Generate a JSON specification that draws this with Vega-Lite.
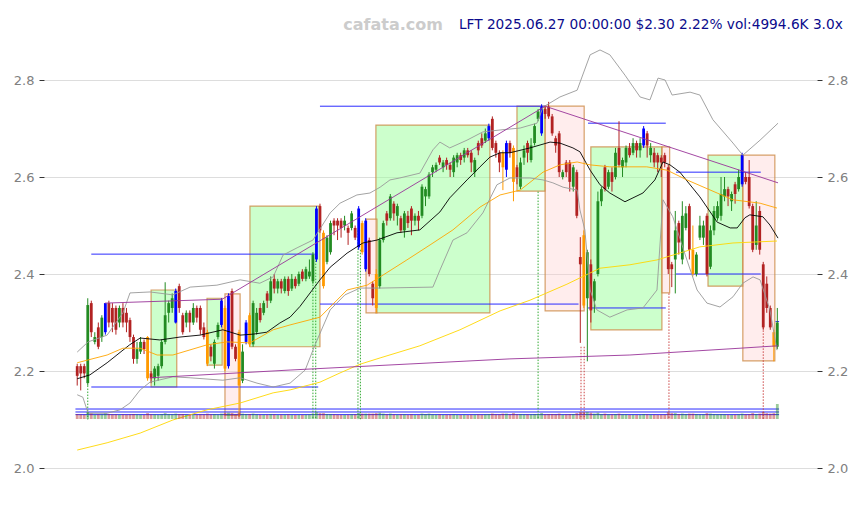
{
"$schema": "https://vega.github.io/schema/vega-lite/v6.json",
"width": 773, "height": 460,
"autosize": {"type": "none"},
"padding": {"left": 44, "top": 8, "right": 41, "bottom": 37},
"background": "white",
"config": {"view": {"stroke": null}, "axis": {"labelFont": "DejaVu Sans", "labelFontSize": 13, "labelColor": "#808080", "tickColor": "#333333", "tickSize": 5, "gridColor": "#dddddd", "domain": false}},
"datasets": {
"candles": [
{"x":0,"o":2.21,"h":2.215,"l":2.17,"c":2.19,"v":1650,"s":"d"},
{"x":1,"o":2.21,"h":2.215,"l":2.16,"c":2.195,"v":1550,"s":"d"},
{"x":2,"o":2.21,"h":2.215,"l":2.185,"c":2.195,"v":1450,"s":"d"},
{"x":3,"o":2.175,"h":2.35,"l":2.17,"c":2.336,"v":2300,"s":"u"},
{"x":4,"o":2.34,"h":2.345,"l":2.27,"c":2.28,"v":1800,"s":"d"},
{"x":5,"o":2.26,"h":2.28,"l":2.255,"c":2.27,"v":1450,"s":"u"},
{"x":6,"o":2.29,"h":2.3,"l":2.245,"c":2.25,"v":1550,"s":"d"},
{"x":7,"o":2.27,"h":2.315,"l":2.26,"c":2.31,"v":1550,"s":"u"},
{"x":8,"o":2.28,"h":2.34,"l":2.275,"c":2.34,"v":1800,"s":"b"},
{"x":9,"o":2.34,"h":2.345,"l":2.29,"c":2.3,"v":1650,"s":"d"},
{"x":10,"o":2.33,"h":2.34,"l":2.28,"c":2.3,"v":1550,"s":"d"},
{"x":11,"o":2.33,"h":2.335,"l":2.275,"c":2.285,"v":1550,"s":"d"},
{"x":12,"o":2.3,"h":2.335,"l":2.29,"c":2.33,"v":1450,"s":"u"},
{"x":13,"o":2.33,"h":2.34,"l":2.29,"c":2.3,"v":1550,"s":"d"},
{"x":14,"o":2.32,"h":2.33,"l":2.28,"c":2.3,"v":1450,"s":"d"},
{"x":15,"o":2.305,"h":2.31,"l":2.26,"c":2.27,"v":1550,"s":"d"},
{"x":16,"o":2.27,"h":2.275,"l":2.215,"c":2.225,"v":1650,"s":"d"},
{"x":17,"o":2.225,"h":2.26,"l":2.215,"c":2.245,"v":1550,"s":"u"},
{"x":18,"o":2.24,"h":2.27,"l":2.235,"c":2.26,"v":1450,"s":"u"},
{"x":19,"o":2.26,"h":2.265,"l":2.235,"c":2.245,"v":1400,"s":"d"},
{"x":20,"o":2.27,"h":2.272,"l":2.18,"c":2.185,"v":1950,"s":"n"},
{"x":21,"o":2.195,"h":2.2,"l":2.175,"c":2.185,"v":1550,"s":"d"},
{"x":22,"o":2.185,"h":2.21,"l":2.17,"c":2.205,"v":1550,"s":"u"},
{"x":23,"o":2.19,"h":2.215,"l":2.18,"c":2.21,"v":1450,"s":"u"},
{"x":24,"o":2.21,"h":2.265,"l":2.205,"c":2.26,"v":1650,"s":"u"},
{"x":25,"o":2.26,"h":2.383,"l":2.255,"c":2.315,"v":1950,"s":"u"},
{"x":26,"o":2.32,"h":2.345,"l":2.3,"c":2.34,"v":1650,"s":"u"},
{"x":27,"o":2.33,"h":2.36,"l":2.32,"c":2.35,"v":1550,"s":"u"},
{"x":28,"o":2.3,"h":2.37,"l":2.298,"c":2.365,"v":1800,"s":"b"},
{"x":29,"o":2.375,"h":2.38,"l":2.32,"c":2.33,"v":1650,"s":"d"},
{"x":30,"o":2.315,"h":2.32,"l":2.275,"c":2.28,"v":1650,"s":"d"},
{"x":31,"o":2.3,"h":2.325,"l":2.29,"c":2.32,"v":1450,"s":"u"},
{"x":32,"o":2.32,"h":2.325,"l":2.28,"c":2.3,"v":1450,"s":"d"},
{"x":33,"o":2.3,"h":2.34,"l":2.295,"c":2.33,"v":1450,"s":"u"},
{"x":34,"o":2.33,"h":2.335,"l":2.3,"c":2.31,"v":1400,"s":"d"},
{"x":35,"o":2.33,"h":2.335,"l":2.275,"c":2.285,"v":1550,"s":"d"},
{"x":36,"o":2.29,"h":2.3,"l":2.265,"c":2.27,"v":1550,"s":"d"},
{"x":37,"o":2.28,"h":2.285,"l":2.21,"c":2.215,"v":1800,"s":"n"},
{"x":38,"o":2.25,"h":2.255,"l":2.22,"c":2.23,"v":1550,"s":"d"},
{"x":39,"o":2.215,"h":2.265,"l":2.205,"c":2.26,"v":1650,"s":"u"},
{"x":40,"o":2.27,"h":2.3,"l":2.265,"c":2.295,"v":1550,"s":"u"},
{"x":41,"o":2.295,"h":2.35,"l":2.29,"c":2.345,"v":1800,"s":"b"},
{"x":42,"o":2.33,"h":2.335,"l":2.2,"c":2.205,"v":1950,"s":"n"},
{"x":43,"o":2.21,"h":2.36,"l":2.205,"c":2.355,"v":2100,"s":"b"},
{"x":44,"o":2.365,"h":2.37,"l":2.245,"c":2.25,"v":1950,"s":"d"},
{"x":45,"o":2.25,"h":2.255,"l":2.22,"c":2.225,"v":1550,"s":"d"},
{"x":46,"o":2.28,"h":2.285,"l":2.105,"c":2.17,"v":2100,"s":"n"},
{"x":47,"o":2.18,"h":2.255,"l":2.175,"c":2.24,"v":1800,"s":"u"},
{"x":48,"o":2.26,"h":2.305,"l":2.255,"c":2.3,"v":1650,"s":"b"},
{"x":49,"o":2.255,"h":2.32,"l":2.25,"c":2.315,"v":1650,"s":"n"},
{"x":50,"o":2.255,"h":2.345,"l":2.25,"c":2.34,"v":1800,"s":"u"},
{"x":51,"o":2.28,"h":2.33,"l":2.275,"c":2.32,"v":1550,"s":"u"},
{"x":52,"o":2.33,"h":2.34,"l":2.3,"c":2.305,"v":1450,"s":"d"},
{"x":53,"o":2.32,"h":2.345,"l":2.315,"c":2.34,"v":1450,"s":"u"},
{"x":54,"o":2.36,"h":2.365,"l":2.33,"c":2.345,"v":1450,"s":"d"},
{"x":55,"o":2.345,"h":2.395,"l":2.34,"c":2.385,"v":1650,"s":"u"},
{"x":56,"o":2.39,"h":2.4,"l":2.36,"c":2.37,"v":1550,"s":"d"},
{"x":57,"o":2.37,"h":2.39,"l":2.36,"c":2.385,"v":1400,"s":"u"},
{"x":58,"o":2.385,"h":2.39,"l":2.36,"c":2.37,"v":1450,"s":"d"},
{"x":59,"o":2.365,"h":2.395,"l":2.36,"c":2.39,"v":1450,"s":"u"},
{"x":60,"o":2.39,"h":2.395,"l":2.355,"c":2.365,"v":1550,"s":"d"},
{"x":61,"o":2.37,"h":2.4,"l":2.365,"c":2.39,"v":1400,"s":"u"},
{"x":62,"o":2.39,"h":2.395,"l":2.37,"c":2.375,"v":1350,"s":"d"},
{"x":63,"o":2.38,"h":2.405,"l":2.375,"c":2.4,"v":1450,"s":"u"},
{"x":64,"o":2.405,"h":2.41,"l":2.385,"c":2.39,"v":1400,"s":"d"},
{"x":65,"o":2.39,"h":2.415,"l":2.385,"c":2.41,"v":1450,"s":"u"},
{"x":66,"o":2.395,"h":2.43,"l":2.39,"c":2.405,"v":1550,"s":"u"},
{"x":67,"o":2.385,"h":2.445,"l":2.38,"c":2.44,"v":1800,"s":"u"},
{"x":68,"o":2.43,"h":2.54,"l":2.425,"c":2.535,"v":2300,"s":"b"},
{"x":69,"o":2.54,"h":2.545,"l":2.485,"c":2.49,"v":1950,"s":"d"},
{"x":70,"o":2.485,"h":2.49,"l":2.37,"c":2.375,"v":1950,"s":"n"},
{"x":71,"o":2.425,"h":2.48,"l":2.42,"c":2.475,"v":1650,"s":"u"},
{"x":72,"o":2.445,"h":2.51,"l":2.44,"c":2.505,"v":1650,"s":"u"},
{"x":73,"o":2.51,"h":2.515,"l":2.48,"c":2.5,"v":1550,"s":"d"},
{"x":74,"o":2.51,"h":2.515,"l":2.47,"c":2.5,"v":1450,"s":"d"},
{"x":75,"o":2.51,"h":2.515,"l":2.475,"c":2.495,"v":1400,"s":"d"},
{"x":76,"o":2.5,"h":2.52,"l":2.49,"c":2.51,"v":1400,"s":"u"},
{"x":77,"o":2.495,"h":2.5,"l":2.46,"c":2.485,"v":1450,"s":"d"},
{"x":78,"o":2.495,"h":2.53,"l":2.49,"c":2.525,"v":1550,"s":"u"},
{"x":79,"o":2.495,"h":2.5,"l":2.47,"c":2.475,"v":1550,"s":"d"},
{"x":80,"o":2.455,"h":2.54,"l":2.45,"c":2.535,"v":1950,"s":"b"},
{"x":81,"o":2.505,"h":2.51,"l":2.44,"c":2.445,"v":1800,"s":"n"},
{"x":82,"o":2.41,"h":2.515,"l":2.405,"c":2.51,"v":1800,"s":"b"},
{"x":83,"o":2.47,"h":2.475,"l":2.395,"c":2.4,"v":1800,"s":"d"},
{"x":84,"o":2.38,"h":2.385,"l":2.335,"c":2.35,"v":1800,"s":"d"},
{"x":85,"o":2.4,"h":2.41,"l":2.32,"c":2.33,"v":1950,"s":"n"},
{"x":86,"o":2.375,"h":2.475,"l":2.37,"c":2.47,"v":2100,"s":"u"},
{"x":87,"o":2.47,"h":2.51,"l":2.465,"c":2.505,"v":1800,"s":"u"},
{"x":88,"o":2.525,"h":2.53,"l":2.5,"c":2.51,"v":1550,"s":"d"},
{"x":89,"o":2.515,"h":2.565,"l":2.51,"c":2.56,"v":1800,"s":"u"},
{"x":90,"o":2.545,"h":2.55,"l":2.51,"c":2.525,"v":1550,"s":"d"},
{"x":91,"o":2.52,"h":2.545,"l":2.5,"c":2.54,"v":1450,"s":"u"},
{"x":92,"o":2.515,"h":2.52,"l":2.485,"c":2.49,"v":1550,"s":"d"},
{"x":93,"o":2.49,"h":2.53,"l":2.475,"c":2.525,"v":1550,"s":"u"},
{"x":94,"o":2.52,"h":2.53,"l":2.495,"c":2.505,"v":1400,"s":"d"},
{"x":95,"o":2.535,"h":2.54,"l":2.48,"c":2.51,"v":1550,"s":"d"},
{"x":96,"o":2.51,"h":2.525,"l":2.5,"c":2.52,"v":1350,"s":"u"},
{"x":97,"o":2.52,"h":2.53,"l":2.49,"c":2.51,"v":1400,"s":"d"},
{"x":98,"o":2.52,"h":2.585,"l":2.515,"c":2.58,"v":1800,"s":"u"},
{"x":99,"o":2.56,"h":2.58,"l":2.54,"c":2.575,"v":1650,"s":"u"},
{"x":100,"o":2.56,"h":2.61,"l":2.555,"c":2.605,"v":1800,"s":"u"},
{"x":101,"o":2.61,"h":2.625,"l":2.6,"c":2.62,"v":1550,"s":"u"},
{"x":102,"o":2.615,"h":2.63,"l":2.61,"c":2.625,"v":1450,"s":"u"},
{"x":103,"o":2.64,"h":2.645,"l":2.625,"c":2.63,"v":1550,"s":"d"},
{"x":104,"o":2.62,"h":2.635,"l":2.61,"c":2.63,"v":1400,"s":"u"},
{"x":105,"o":2.635,"h":2.64,"l":2.615,"c":2.625,"v":1400,"s":"d"},
{"x":106,"o":2.625,"h":2.63,"l":2.6,"c":2.615,"v":1450,"s":"d"},
{"x":107,"o":2.61,"h":2.645,"l":2.6,"c":2.64,"v":1550,"s":"u"},
{"x":108,"o":2.63,"h":2.65,"l":2.62,"c":2.645,"v":1400,"s":"u"},
{"x":109,"o":2.645,"h":2.65,"l":2.625,"c":2.635,"v":1350,"s":"d"},
{"x":110,"o":2.64,"h":2.66,"l":2.63,"c":2.655,"v":1450,"s":"u"},
{"x":111,"o":2.655,"h":2.66,"l":2.64,"c":2.645,"v":1350,"s":"d"},
{"x":112,"o":2.65,"h":2.655,"l":2.61,"c":2.63,"v":1450,"s":"d"},
{"x":113,"o":2.61,"h":2.64,"l":2.6,"c":2.635,"v":1450,"s":"u"},
{"x":114,"o":2.67,"h":2.675,"l":2.645,"c":2.655,"v":1550,"s":"d"},
{"x":115,"o":2.68,"h":2.69,"l":2.66,"c":2.665,"v":1450,"s":"d"},
{"x":116,"o":2.675,"h":2.7,"l":2.67,"c":2.69,"v":1550,"s":"u"},
{"x":117,"o":2.68,"h":2.71,"l":2.675,"c":2.705,"v":1650,"s":"b"},
{"x":118,"o":2.72,"h":2.725,"l":2.655,"c":2.66,"v":1800,"s":"d"},
{"x":119,"o":2.67,"h":2.675,"l":2.64,"c":2.65,"v":1550,"s":"d"},
{"x":120,"o":2.65,"h":2.655,"l":2.61,"c":2.63,"v":1550,"s":"d"},
{"x":121,"o":2.65,"h":2.655,"l":2.573,"c":2.62,"v":1800,"s":"n"},
{"x":122,"o":2.615,"h":2.675,"l":2.6,"c":2.67,"v":1800,"s":"b"},
{"x":123,"o":2.67,"h":2.675,"l":2.64,"c":2.65,"v":1550,"s":"d"},
{"x":124,"o":2.66,"h":2.665,"l":2.55,"c":2.59,"v":1950,"s":"n"},
{"x":125,"o":2.62,"h":2.625,"l":2.585,"c":2.6,"v":1550,"s":"d"},
{"x":126,"o":2.58,"h":2.64,"l":2.575,"c":2.63,"v":1650,"s":"u"},
{"x":127,"o":2.64,"h":2.665,"l":2.625,"c":2.655,"v":1550,"s":"u"},
{"x":128,"o":2.67,"h":2.675,"l":2.63,"c":2.65,"v":1550,"s":"d"},
{"x":129,"o":2.635,"h":2.68,"l":2.63,"c":2.665,"v":1550,"s":"u"},
{"x":130,"o":2.67,"h":2.71,"l":2.665,"c":2.705,"v":1650,"s":"u"},
{"x":131,"o":2.72,"h":2.74,"l":2.715,"c":2.735,"v":1650,"s":"u"},
{"x":132,"o":2.69,"h":2.75,"l":2.685,"c":2.745,"v":1950,"s":"b"},
{"x":133,"o":2.74,"h":2.745,"l":2.72,"c":2.73,"v":1550,"s":"d"},
{"x":134,"o":2.745,"h":2.755,"l":2.72,"c":2.725,"v":1650,"s":"d"},
{"x":135,"o":2.725,"h":2.73,"l":2.685,"c":2.69,"v":1650,"s":"d"},
{"x":136,"o":2.68,"h":2.685,"l":2.65,"c":2.665,"v":1550,"s":"d"},
{"x":137,"o":2.69,"h":2.695,"l":2.6,"c":2.61,"v":1800,"s":"d"},
{"x":138,"o":2.6,"h":2.615,"l":2.595,"c":2.61,"v":1450,"s":"u"},
{"x":139,"o":2.63,"h":2.635,"l":2.6,"c":2.61,"v":1550,"s":"d"},
{"x":140,"o":2.63,"h":2.635,"l":2.57,"c":2.59,"v":1650,"s":"d"},
{"x":141,"o":2.58,"h":2.625,"l":2.57,"c":2.62,"v":1650,"s":"u"},
{"x":142,"o":2.61,"h":2.615,"l":2.515,"c":2.52,"v":1950,"s":"d"},
{"x":143,"o":2.435,"h":2.476,"l":2.258,"c":2.42,"v":2300,"s":"d"},
{"x":144,"o":2.48,"h":2.49,"l":2.33,"c":2.335,"v":2300,"s":"n"},
{"x":145,"o":2.35,"h":2.45,"l":2.22,"c":2.445,"v":2300,"s":"u"},
{"x":146,"o":2.42,"h":2.43,"l":2.3,"c":2.325,"v":2100,"s":"d"},
{"x":147,"o":2.345,"h":2.39,"l":2.32,"c":2.385,"v":1800,"s":"u"},
{"x":148,"o":2.4,"h":2.57,"l":2.395,"c":2.55,"v":2100,"s":"u"},
{"x":149,"o":2.55,"h":2.58,"l":2.54,"c":2.575,"v":1650,"s":"u"},
{"x":150,"o":2.62,"h":2.625,"l":2.57,"c":2.575,"v":1800,"s":"d"},
{"x":151,"o":2.58,"h":2.615,"l":2.575,"c":2.61,"v":1550,"s":"u"},
{"x":152,"o":2.61,"h":2.62,"l":2.57,"c":2.59,"v":1550,"s":"d"},
{"x":153,"o":2.6,"h":2.66,"l":2.595,"c":2.65,"v":1650,"s":"u"},
{"x":154,"o":2.66,"h":2.715,"l":2.62,"c":2.625,"v":1800,"s":"d"},
{"x":155,"o":2.62,"h":2.64,"l":2.6,"c":2.635,"v":1550,"s":"u"},
{"x":156,"o":2.63,"h":2.665,"l":2.62,"c":2.66,"v":1550,"s":"u"},
{"x":157,"o":2.66,"h":2.67,"l":2.64,"c":2.645,"v":1400,"s":"d"},
{"x":158,"o":2.65,"h":2.68,"l":2.645,"c":2.67,"v":1450,"s":"u"},
{"x":159,"o":2.67,"h":2.675,"l":2.64,"c":2.655,"v":1400,"s":"d"},
{"x":160,"o":2.655,"h":2.68,"l":2.64,"c":2.67,"v":1450,"s":"u"},
{"x":161,"o":2.665,"h":2.705,"l":2.66,"c":2.7,"v":1650,"s":"b"},
{"x":162,"o":2.69,"h":2.695,"l":2.64,"c":2.665,"v":1550,"s":"d"},
{"x":163,"o":2.645,"h":2.67,"l":2.63,"c":2.66,"v":1450,"s":"u"},
{"x":164,"o":2.65,"h":2.66,"l":2.62,"c":2.63,"v":1450,"s":"d"},
{"x":165,"o":2.645,"h":2.65,"l":2.61,"c":2.63,"v":1400,"s":"d"},
{"x":166,"o":2.64,"h":2.645,"l":2.6,"c":2.63,"v":1450,"s":"d"},
{"x":167,"o":2.645,"h":2.65,"l":2.62,"c":2.63,"v":1450,"s":"d"},
{"x":168,"o":2.62,"h":2.625,"l":2.4,"c":2.41,"v":2300,"s":"d"},
{"x":169,"o":2.42,"h":2.425,"l":2.373,"c":2.41,"v":1950,"s":"d"},
{"x":170,"o":2.43,"h":2.53,"l":2.36,"c":2.49,"v":1950,"s":"u"},
{"x":171,"o":2.505,"h":2.51,"l":2.44,"c":2.465,"v":1650,"s":"d"},
{"x":172,"o":2.43,"h":2.55,"l":2.42,"c":2.52,"v":1800,"s":"u"},
{"x":173,"o":2.495,"h":2.54,"l":2.49,"c":2.525,"v":1650,"s":"u"},
{"x":174,"o":2.54,"h":2.545,"l":2.43,"c":2.45,"v":1800,"s":"d"},
{"x":175,"o":2.45,"h":2.5,"l":2.395,"c":2.4,"v":1800,"s":"n"},
{"x":176,"o":2.4,"h":2.445,"l":2.395,"c":2.44,"v":1650,"s":"u"},
{"x":177,"o":2.475,"h":2.52,"l":2.47,"c":2.5,"v":1550,"s":"u"},
{"x":178,"o":2.475,"h":2.51,"l":2.46,"c":2.5,"v":1550,"s":"u"},
{"x":179,"o":2.52,"h":2.525,"l":2.395,"c":2.4,"v":1950,"s":"d"},
{"x":180,"o":2.415,"h":2.5,"l":2.41,"c":2.49,"v":1800,"s":"u"},
{"x":181,"o":2.49,"h":2.54,"l":2.48,"c":2.53,"v":1650,"s":"u"},
{"x":182,"o":2.515,"h":2.55,"l":2.51,"c":2.54,"v":1550,"s":"u"},
{"x":183,"o":2.52,"h":2.6,"l":2.51,"c":2.565,"v":1650,"s":"u"},
{"x":184,"o":2.56,"h":2.6,"l":2.55,"c":2.575,"v":1550,"s":"u"},
{"x":185,"o":2.575,"h":2.58,"l":2.54,"c":2.56,"v":1450,"s":"d"},
{"x":186,"o":2.55,"h":2.57,"l":2.53,"c":2.565,"v":1400,"s":"u"},
{"x":187,"o":2.585,"h":2.59,"l":2.545,"c":2.565,"v":1450,"s":"d"},
{"x":188,"o":2.575,"h":2.615,"l":2.57,"c":2.6,"v":1550,"s":"u"},
{"x":189,"o":2.585,"h":2.65,"l":2.58,"c":2.645,"v":1800,"s":"b"},
{"x":190,"o":2.6,"h":2.61,"l":2.585,"c":2.59,"v":1550,"s":"d"},
{"x":191,"o":2.6,"h":2.635,"l":2.535,"c":2.54,"v":1650,"s":"d"},
{"x":192,"o":2.54,"h":2.545,"l":2.445,"c":2.45,"v":1950,"s":"d"},
{"x":193,"o":2.46,"h":2.55,"l":2.45,"c":2.5,"v":1650,"s":"u"},
{"x":194,"o":2.53,"h":2.54,"l":2.44,"c":2.45,"v":1800,"s":"d"},
{"x":195,"o":2.42,"h":2.425,"l":2.285,"c":2.29,"v":2300,"s":"d"},
{"x":196,"o":2.38,"h":2.395,"l":2.32,"c":2.33,"v":1950,"s":"d"},
{"x":197,"o":2.33,"h":2.335,"l":2.285,"c":2.29,"v":1800,"s":"d"},
{"x":198,"o":2.28,"h":2.285,"l":2.22,"c":2.25,"v":1950,"s":"n"},
{"x":199,"o":2.25,"h":2.33,"l":2.245,"c":2.3,"v":4995,"s":"u"}
],
"gboxes": [
{"x":21.0,"x2":28.3,"y":2.167,"y2":2.367},
{"x":36.9,"x2":41.2,"y":2.212,"y2":2.35},
{"x":49.1,"x2":69.0,"y":2.25,"y2":2.54},
{"x":84.9,"x2":117.3,"y":2.32,"y2":2.707},
{"x":125.0,"x2":133.0,"y":2.571,"y2":2.746},
{"x":146.0,"x2":166.2,"y":2.285,"y2":2.662},
{"x":179.3,"x2":189.2,"y":2.375,"y2":2.645}
],
"pboxes": [
{"x":42.0,"x2":46.3,"y":2.109,"y2":2.359},
{"x":82.1,"x2":85.2,"y":2.32,"y2":2.513},
{"x":133.0,"x2":144.1,"y":2.324,"y2":2.746},
{"x":166.2,"x2":168.4,"y":2.361,"y2":2.662},
{"x":189.2,"x2":198.3,"y":2.221,"y2":2.645}
],
"levels": [
{"x":4,"x2":67.5,"y":2.441},
{"x":4,"x2":68.5,"y":2.167},
{"x":69,"x2":133,"y":2.746},
{"x":69,"x2":142.5,"y":2.338},
{"x":145.2,"x2":167.3,"y":2.711},
{"x":145.2,"x2":167.3,"y":2.33},
{"x":170.2,"x2":194.3,"y":2.61},
{"x":170.2,"x2":194.3,"y":2.4},
{"x":198.5,"x2":199.5,"y":2.302},
{"x":-0.5,"x2":199.5,"y":2.1216},
{"x":-0.5,"x2":199.5,"y":2.1155},
{"x":-0.5,"x2":199.5,"y":2.11}
],
"signals": [
{"x":3,"y":2.17,"s":"g"},
{"x":67,"y":2.44,"s":"g"},
{"x":67.8,"y":2.44,"s":"g"},
{"x":79.8,"y":2.49,"s":"g"},
{"x":80.5,"y":2.45,"s":"g"},
{"x":131,"y":2.57,"s":"g"},
{"x":143.2,"y":2.25,"s":"r"},
{"x":144.1,"y":2.25,"s":"r"},
{"x":168.2,"y":2.36,"s":"r"},
{"x":195,"y":2.29,"s":"r"}
],
"labels": [
{"t":"cafata.com"},
{"t":"LFT 2025.06.27 00:00:00 $2.30 2.22% vol:4994.6K 3.0x"}
],
"lines": [
{"s":"ma20","x":0,"y":2.184},{"s":"ma20","x":3.6,"y":2.192},{"s":"ma20","x":8.5,"y":2.217},{"s":"ma20","x":14.9,"y":2.254},{"s":"ma20","x":17.9,"y":2.268},{"s":"ma20","x":23.5,"y":2.264},{"s":"ma20","x":29.2,"y":2.27},{"s":"ma20","x":34.9,"y":2.274},{"s":"ma20","x":41.4,"y":2.285},{"s":"ma20","x":46.3,"y":2.274},{"s":"ma20","x":50,"y":2.276},{"s":"ma20","x":53.9,"y":2.28},{"s":"ma20","x":57.6,"y":2.299},{"s":"ma20","x":60.5,"y":2.311},{"s":"ma20","x":63.3,"y":2.333},{"s":"ma20","x":69,"y":2.388},{"s":"ma20","x":71.9,"y":2.414},{"s":"ma20","x":76.7,"y":2.443},{"s":"ma20","x":81.2,"y":2.464},{"s":"ma20","x":85.2,"y":2.47},{"s":"ma20","x":90.9,"y":2.485},{"s":"ma20","x":97.4,"y":2.491},{"s":"ma20","x":103.1,"y":2.528},{"s":"ma20","x":105.9,"y":2.557},{"s":"ma20","x":110.8,"y":2.594},{"s":"ma20","x":114.5,"y":2.621},{"s":"ma20","x":117.3,"y":2.641},{"s":"ma20","x":120.2,"y":2.65},{"s":"ma20","x":123,"y":2.65},{"s":"ma20","x":128.7,"y":2.66},{"s":"ma20","x":134.4,"y":2.672},{"s":"ma20","x":137.2,"y":2.67},{"s":"ma20","x":140.9,"y":2.66},{"s":"ma20","x":142.9,"y":2.652},{"s":"ma20","x":145.8,"y":2.614},{"s":"ma20","x":148.6,"y":2.584},{"s":"ma20","x":151.4,"y":2.567},{"s":"ma20","x":155.7,"y":2.549},{"s":"ma20","x":160.8,"y":2.567},{"s":"ma20","x":164.2,"y":2.594},{"s":"ma20","x":166.5,"y":2.631},{"s":"ma20","x":168.5,"y":2.625},{"s":"ma20","x":171.3,"y":2.61},{"s":"ma20","x":177,"y":2.559},{"s":"ma20","x":181.9,"y":2.507},{"s":"ma20","x":185.6,"y":2.495},{"s":"ma20","x":187.6,"y":2.495},{"s":"ma20","x":189.8,"y":2.516},{"s":"ma20","x":191.2,"y":2.522},{"s":"ma20","x":194.9,"y":2.518},{"s":"ma20","x":196.9,"y":2.501},{"s":"ma20","x":199.2,"y":2.474},
{"s":"ma50","x":0,"y":2.217},{"s":"ma50","x":8.5,"y":2.233},{"s":"ma50","x":13,"y":2.247},{"s":"ma50","x":17.9,"y":2.247},{"s":"ma50","x":22.7,"y":2.233},{"s":"ma50","x":27.2,"y":2.233},{"s":"ma50","x":36.9,"y":2.254},{"s":"ma50","x":42.6,"y":2.26},{"s":"ma50","x":49.1,"y":2.258},{"s":"ma50","x":55.7,"y":2.285},{"s":"ma50","x":60.5,"y":2.295},{"s":"ma50","x":69,"y":2.311},{"s":"ma50","x":76.7,"y":2.367},{"s":"ma50","x":82.4,"y":2.377},{"s":"ma50","x":86.1,"y":2.394},{"s":"ma50","x":93.7,"y":2.429},{"s":"ma50","x":100.3,"y":2.46},{"s":"ma50","x":106.8,"y":2.491},{"s":"ma50","x":114.5,"y":2.538},{"s":"ma50","x":120.2,"y":2.563},{"s":"ma50","x":125.9,"y":2.573},{"s":"ma50","x":132.4,"y":2.61},{"s":"ma50","x":137.2,"y":2.625},{"s":"ma50","x":142.1,"y":2.631},{"s":"ma50","x":145.8,"y":2.625},{"s":"ma50","x":151.4,"y":2.621},{"s":"ma50","x":157.1,"y":2.621},{"s":"ma50","x":161.9,"y":2.621},{"s":"ma50","x":167.7,"y":2.614},{"s":"ma50","x":173.3,"y":2.594},{"s":"ma50","x":181.9,"y":2.567},{"s":"ma50","x":186.4,"y":2.553},{"s":"ma50","x":194.1,"y":2.546},{"s":"ma50","x":198.9,"y":2.536},
{"s":"ma200","x":0,"y":2.037},{"s":"ma200","x":8.5,"y":2.052},{"s":"ma200","x":17.9,"y":2.072},{"s":"ma200","x":27.2,"y":2.099},{"s":"ma200","x":36.9,"y":2.12},{"s":"ma200","x":46.3,"y":2.134},{"s":"ma200","x":55.7,"y":2.155},{"s":"ma200","x":60.5,"y":2.161},{"s":"ma200","x":69,"y":2.177},{"s":"ma200","x":74.7,"y":2.196},{"s":"ma200","x":80.4,"y":2.214},{"s":"ma200","x":86.1,"y":2.227},{"s":"ma200","x":97.4,"y":2.252},{"s":"ma200","x":108.8,"y":2.285},{"s":"ma200","x":120.2,"y":2.324},{"s":"ma200","x":128.7,"y":2.346},{"s":"ma200","x":139.2,"y":2.379},{"s":"ma200","x":148.6,"y":2.412},{"s":"ma200","x":157.1,"y":2.419},{"s":"ma200","x":164.8,"y":2.429},{"s":"ma200","x":177,"y":2.456},{"s":"ma200","x":186.4,"y":2.464},{"s":"ma200","x":198.9,"y":2.468},
{"s":"bbU","x":0,"y":2.239},{"s":"bbU","x":3.1,"y":2.26},{"s":"bbU","x":8.5,"y":2.274},{"s":"bbU","x":13,"y":2.32},{"s":"bbU","x":15,"y":2.361},{"s":"bbU","x":20.7,"y":2.363},{"s":"bbU","x":27.2,"y":2.357},{"s":"bbU","x":32.1,"y":2.373},{"s":"bbU","x":39.7,"y":2.377},{"s":"bbU","x":46.3,"y":2.388},{"s":"bbU","x":51.9,"y":2.381},{"s":"bbU","x":55.7,"y":2.394},{"s":"bbU","x":58.5,"y":2.439},{"s":"bbU","x":62.5,"y":2.454},{"s":"bbU","x":67,"y":2.47},{"s":"bbU","x":71.9,"y":2.526},{"s":"bbU","x":74.7,"y":2.546},{"s":"bbU","x":79.5,"y":2.563},{"s":"bbU","x":83.2,"y":2.567},{"s":"bbU","x":86.1,"y":2.579},{"s":"bbU","x":88.9,"y":2.594},{"s":"bbU","x":91.7,"y":2.598},{"s":"bbU","x":97.4,"y":2.608},{"s":"bbU","x":101.1,"y":2.656},{"s":"bbU","x":103.1,"y":2.672},{"s":"bbU","x":105.9,"y":2.66},{"s":"bbU","x":110.8,"y":2.676},{"s":"bbU","x":115.3,"y":2.693},{"s":"bbU","x":120.2,"y":2.697},{"s":"bbU","x":125.9,"y":2.701},{"s":"bbU","x":130.7,"y":2.711},{"s":"bbU","x":132.4,"y":2.744},{"s":"bbU","x":137.2,"y":2.765},{"s":"bbU","x":142.1,"y":2.779},{"s":"bbU","x":145.8,"y":2.852},{"s":"bbU","x":148.6,"y":2.862},{"s":"bbU","x":151.4,"y":2.852},{"s":"bbU","x":155.7,"y":2.81},{"s":"bbU","x":160,"y":2.765},{"s":"bbU","x":162.8,"y":2.759},{"s":"bbU","x":165.1,"y":2.804},{"s":"bbU","x":167.1,"y":2.8},{"s":"bbU","x":169.1,"y":2.769},{"s":"bbU","x":174.2,"y":2.775},{"s":"bbU","x":177,"y":2.769},{"s":"bbU","x":180.7,"y":2.718},{"s":"bbU","x":186.4,"y":2.67},{"s":"bbU","x":189.2,"y":2.645},{"s":"bbU","x":194.1,"y":2.676},{"s":"bbU","x":199.2,"y":2.711},
{"s":"bbL","x":0,"y":2.151},{"s":"bbL","x":1.6,"y":2.146},{"s":"bbL","x":3.1,"y":2.113},{"s":"bbL","x":8.5,"y":2.113},{"s":"bbL","x":12.2,"y":2.12},{"s":"bbL","x":15,"y":2.134},{"s":"bbL","x":17.9,"y":2.161},{"s":"bbL","x":20.7,"y":2.177},{"s":"bbL","x":27.2,"y":2.188},{"s":"bbL","x":32.1,"y":2.186},{"s":"bbL","x":41.4,"y":2.181},{"s":"bbL","x":46.3,"y":2.186},{"s":"bbL","x":51.1,"y":2.175},{"s":"bbL","x":55.7,"y":2.167},{"s":"bbL","x":60.5,"y":2.175},{"s":"bbL","x":64.8,"y":2.202},{"s":"bbL","x":67.6,"y":2.254},{"s":"bbL","x":71.9,"y":2.326},{"s":"bbL","x":76.1,"y":2.357},{"s":"bbL","x":80.4,"y":2.371},{"s":"bbL","x":86.1,"y":2.371},{"s":"bbL","x":101.1,"y":2.373},{"s":"bbL","x":103.1,"y":2.408},{"s":"bbL","x":106.8,"y":2.47},{"s":"bbL","x":110.8,"y":2.485},{"s":"bbL","x":115.3,"y":2.526},{"s":"bbL","x":119.3,"y":2.584},{"s":"bbL","x":123,"y":2.598},{"s":"bbL","x":128.7,"y":2.598},{"s":"bbL","x":132.4,"y":2.594},{"s":"bbL","x":135.2,"y":2.588},{"s":"bbL","x":138.1,"y":2.579},{"s":"bbL","x":142.1,"y":2.573},{"s":"bbL","x":142.9,"y":2.532},{"s":"bbL","x":144.3,"y":2.491},{"s":"bbL","x":145.8,"y":2.367},{"s":"bbL","x":147.7,"y":2.326},{"s":"bbL","x":151.4,"y":2.311},{"s":"bbL","x":156.3,"y":2.326},{"s":"bbL","x":160.8,"y":2.33},{"s":"bbL","x":164.8,"y":2.367},{"s":"bbL","x":166.5,"y":2.553},{"s":"bbL","x":169.3,"y":2.518},{"s":"bbL","x":173.3,"y":2.429},{"s":"bbL","x":176.2,"y":2.367},{"s":"bbL","x":179,"y":2.34},{"s":"bbL","x":182.7,"y":2.332},{"s":"bbL","x":186.4,"y":2.353},{"s":"bbL","x":189.2,"y":2.381},{"s":"bbL","x":192.1,"y":2.394},{"s":"bbL","x":194.1,"y":2.388},{"s":"bbL","x":196.9,"y":2.326},{"s":"bbL","x":198.9,"y":2.243},
{"s":"t1","x":7.9,"y":2.34},{"s":"t1","x":41.2,"y":2.348},{"s":"t1","x":133,"y":2.746},{"s":"t1","x":199.2,"y":2.588},
{"s":"t2","x":20.7,"y":2.186},{"s":"t2","x":60.5,"y":2.202},{"s":"t2","x":123,"y":2.225},{"s":"t2","x":157.1,"y":2.233},{"s":"t2","x":188.4,"y":2.247},{"s":"t2","x":199.2,"y":2.252}
]
},
"layer": [
{
"layer": [
{"data": {"name": "gboxes"}, "mark": {"type": "rect", "fill": "#99ff99", "fillOpacity": 0.5, "stroke": "#cc8844", "strokeOpacity": 0.8, "strokeWidth": 1.2},
 "encoding": {"x": {"field": "x", "type": "quantitative", "scale": {"domain": [-9.44, 210.28], "nice": false, "zero": false, "padding": 0},
   "axis": {"values": [15,38,58,79,99,118,139,160,181], "labelExpr": "['10','11','12','1','2','3','4','5','6'][indexof([15,38,58,79,99,118,139,160,181], datum.value)]", "grid": true, "title": null, "labelPadding": 6}},
  "x2": {"field": "x2"}, "y": {"field": "y", "type": "quantitative", "scale": {"domain": [2.0, 2.9485], "nice": false, "zero": false}, "axis": null}, "y2": {"field": "y2"}}},
{"data": {"name": "pboxes"}, "mark": {"type": "rect", "fill": "#ffcccc", "fillOpacity": 0.35, "stroke": "#cc8844", "strokeOpacity": 0.8, "strokeWidth": 1.2},
 "encoding": {"x": {"field": "x", "type": "quantitative", "scale": {"domain": [-9.44, 210.28], "nice": false, "zero": false, "padding": 0}, "axis": null},
  "x2": {"field": "x2"}, "y": {"field": "y", "type": "quantitative", "scale": {"domain": [2.0, 2.9485], "nice": false, "zero": false}, "axis": null}, "y2": {"field": "y2"}}},
{"data": {"name": "levels"}, "mark": {"type": "rule", "stroke": "#2b2bff", "strokeWidth": 1},
 "encoding": {"x": {"field": "x", "type": "quantitative", "scale": {"domain": [-9.44, 210.28], "nice": false, "zero": false, "padding": 0}, "axis": null},
  "x2": {"field": "x2"}, "y": {"field": "y", "type": "quantitative", "scale": {"domain": [2.0, 2.9485], "nice": false, "zero": false}, "axis": null}}},
{"data": {"name": "signals"}, "mark": {"type": "rule", "strokeWidth": 1, "strokeDash": [1.5, 1.5]},
 "encoding": {"x": {"field": "x", "type": "quantitative", "scale": {"domain": [-9.44, 210.28], "nice": false, "zero": false, "padding": 0}, "axis": null},
  "y": {"field": "y", "type": "quantitative", "scale": {"domain": [2.0, 2.9485], "nice": false, "zero": false}, "axis": null}, "y2": {"datum": 2.1},
  "stroke": {"field": "s", "type": "nominal", "scale": {"domain": ["ma20","ma50","ma200","bbU","bbL","t1","t2","g","r"], "range": ["#000000","#ffa500","#ffd700","#999999","#999999","#993399","#993399","#33aa33","#cc4444"]}, "legend": null}}},
{"data": {"name": "candles"}, "mark": {"type": "rule", "strokeWidth": 1},
 "encoding": {"x": {"field": "x", "type": "quantitative", "scale": {"domain": [-9.44, 210.28], "nice": false, "zero": false, "padding": 0}, "axis": null},
  "y": {"field": "l", "type": "quantitative", "scale": {"domain": [2.0, 2.9485], "nice": false, "zero": false},
   "axis": {"orient": "left", "values": [2.0,2.2,2.4,2.6,2.8], "format": ".1f", "grid": true, "title": null, "labelPadding": 5}},
  "y2": {"field": "h"},
  "color": {"field": "s", "type": "nominal", "scale": {"domain": ["u","d","b","n"], "range": ["#228b22","#b22222","#0000ff","#ff9900"]}, "legend": null}}},
{"data": {"name": "candles"}, "mark": {"type": "bar", "size": 2.8},
 "encoding": {"x": {"field": "x", "type": "quantitative", "scale": {"domain": [-9.44, 210.28], "nice": false, "zero": false, "padding": 0}, "axis": null},
  "y": {"field": "o", "type": "quantitative", "scale": {"domain": [2.0, 2.9485], "nice": false, "zero": false},
   "axis": {"orient": "right", "values": [2.0,2.2,2.4,2.6,2.8], "format": ".1f", "grid": false, "title": null, "labelPadding": 5}},
  "y2": {"field": "c"},
  "color": {"field": "s", "type": "nominal", "scale": {"domain": ["u","d","b","n"], "range": ["#228b22","#b22222","#0000ff","#ff9900"]}, "legend": null}}},
{"data": {"name": "lines"}, "mark": {"type": "line", "strokeWidth": 0.9},
 "encoding": {"x": {"field": "x", "type": "quantitative", "scale": {"domain": [-9.44, 210.28], "nice": false, "zero": false, "padding": 0}, "axis": null},
  "y": {"field": "y", "type": "quantitative", "scale": {"domain": [2.0, 2.9485], "nice": false, "zero": false}, "axis": null},
  "stroke": {"field": "s", "type": "nominal", "scale": {"domain": ["ma20","ma50","ma200","bbU","bbL","t1","t2","g","r"], "range": ["#000000","#ffa500","#ffd700","#999999","#999999","#993399","#993399","#33aa33","#cc4444"]}, "legend": null}}},
{"data": {"name": "labels"}, "transform": [{"filter": "datum.t == 'cafata.com'"}],
 "mark": {"type": "text", "font": "DejaVu Sans", "fontSize": 16, "fontWeight": "bold", "fill": "#cccccc", "align": "center", "baseline": "middle"},
 "encoding": {"text": {"field": "t"},
  "x": {"datum": 89.8, "type": "quantitative", "scale": {"domain": [-9.44, 210.28], "nice": false, "zero": false, "padding": 0}, "axis": null},
  "y": {"datum": 2.913, "type": "quantitative", "scale": {"domain": [2.0, 2.9485], "nice": false, "zero": false}, "axis": null}}},
{"data": {"name": "labels"}, "transform": [{"filter": "datum.t != 'cafata.com'"}],
 "mark": {"type": "text", "font": "DejaVu Sans", "fontSize": 13.7, "fill": "#0b0b8c", "align": "left", "baseline": "middle"},
 "encoding": {"text": {"field": "t"},
  "x": {"datum": 108.5, "type": "quantitative", "scale": {"domain": [-9.44, 210.28], "nice": false, "zero": false, "padding": 0}, "axis": null},
  "y": {"datum": 2.913, "type": "quantitative", "scale": {"domain": [2.0, 2.9485], "nice": false, "zero": false}, "axis": null}}}
],
"resolve": {"axis": {"y": "independent"}}
},
{"data": {"name": "candles"}, "mark": {"type": "bar", "size": 2.8, "opacity": 0.45},
 "encoding": {"x": {"field": "x", "type": "quantitative", "scale": {"domain": [-9.44, 210.28], "nice": false, "zero": false, "padding": 0}, "axis": null},
  "y": {"field": "v", "type": "quantitative", "scale": {"domain": [0, 5000], "range": [411, 396], "nice": false, "zero": true}, "axis": null},
  "fill": {"field": "s", "type": "nominal", "scale": {"domain": ["u","d","b","n"], "range": ["#228b22","#b22222","#228b22","#b22222"]}, "legend": null}}}
],
"resolve": {"scale": {"y": "independent"}}
}
